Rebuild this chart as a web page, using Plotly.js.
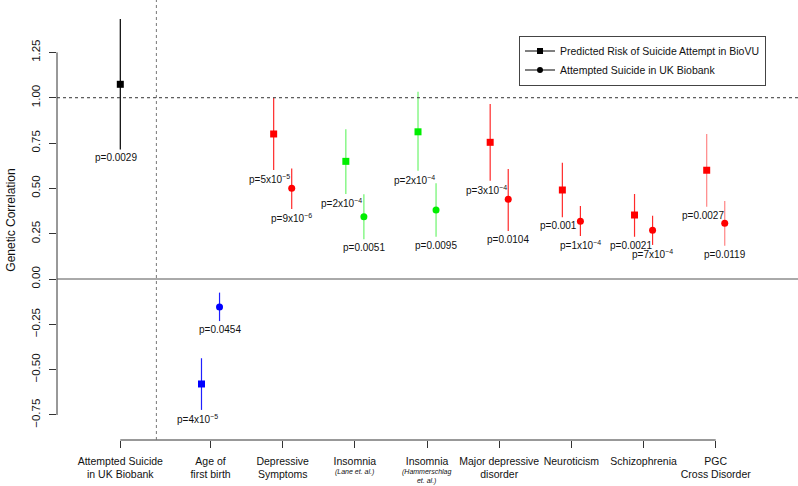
<!DOCTYPE html>
<html>
<head>
<meta charset="utf-8">
<script src="https://cdn.plot.ly/plotly-3.0.1.min.js"></script>
<style>
  html, body { margin: 0; padding: 0; background: #fff; }
  #chart { width: 798px; height: 486px; }
</style>
</head>
<body>
<div id="chart"></div>
<script>
// categories along the x axis (position of each tick)
const categories = [
  'Attempted Suicide<br>in UK Biobank',
  'Age of<br>first birth',
  'Depressive<br>Symptoms',
  'Insomnia',
  'Insomnia',
  'Major depressive<br>disorder',
  'Neuroticism',
  'Schizophrenia',
  'PGC<br>Cross Disorder'
];
// small italic sub-labels under some categories
const subLabels = [null, null, null, '(Lane et. al.)', '(Hammerschlag<br>et. al.)', null, null, null, null];
const catPos = [0, 1.25, 2.25, 3.25, 4.25, 5.25, 6.25, 7.25, 8.25];

// predicted risk of suicide attempt in BioVU (squares)
const biovuR  = [1.074, -0.579, 0.80, 0.649, 0.812, 0.754, 0.491, 0.353, 0.60];
const biovuLo = [0.715, -0.722, 0.601, 0.469, 0.597, 0.542, 0.34, 0.233, 0.399];
const biovuHi = [1.434, -0.437, 1.00, 0.826, 1.033, 0.965, 0.641, 0.469, 0.80];
const biovuP  = ['p=0.0029', 'p=4x10<sup>−5</sup>', 'p=5x10<sup>−5</sup>', 'p=2x10<sup>−4</sup>',
                 'p=2x10<sup>−4</sup>', 'p=3x10<sup>−4</sup>', 'p=0.001', 'p=0.0021', 'p=0.0027'];

// attempted suicide in UK Biobank (circles)
const ukbR  = [null, -0.154, 0.50, 0.344, 0.381, 0.44, 0.318, 0.269, 0.307];
const ukbLo = [null, -0.232, 0.386, 0.219, 0.233, 0.265, 0.237, 0.188, 0.184];
const ukbHi = [null, -0.075, 0.61, 0.467, 0.528, 0.607, 0.403, 0.349, 0.43];
const ukbP  = [null, 'p=0.0454', 'p=9x10<sup>−6</sup>', 'p=0.0051', 'p=0.0095', 'p=0.0104',
               'p=1x10<sup>−4</sup>', 'p=7x10<sup>−4</sup>', 'p=0.0119'];

const markerColors = ['#000000', '#0000ff', '#ff0000', '#00ee00', '#00ee00', '#ff0000', '#ff0000', '#ff0000', '#ff0000'];
const barColors    = ['#000000', '#2020ff', '#ff2a2a', '#6cf56c', '#6cf56c', '#ff2a2a', '#ff2a2a', '#ff2a2a', '#ff8585'];

const off = 0.125;
const font = 'Liberation Sans, Arial, Helvetica, sans-serif';

const traces = [];
const annotations = [];

catPos.forEach((pos, i) => {
  const xs = [], ys = [], up = [], down = [], sym = [];
  const single = ukbR[i] === null;
  const xb = single ? pos : pos - off;
  xs.push(xb); ys.push(biovuR[i]); up.push(biovuHi[i] - biovuR[i]); down.push(biovuR[i] - biovuLo[i]); sym.push('square');
  annotations.push({ x: xb, y: biovuLo[i], text: biovuP[i], xshift: -4, yshift: -1 });
  if (!single) {
    xs.push(pos + off); ys.push(ukbR[i]); up.push(ukbHi[i] - ukbR[i]); down.push(ukbR[i] - ukbLo[i]); sym.push('circle');
    annotations.push({ x: pos + off, y: ukbLo[i], text: ukbP[i], xshift: 0, yshift: -1 });
  }
  traces.push({
    x: xs, y: ys, type: 'scatter', mode: 'markers', showlegend: false, hoverinfo: 'skip',
    marker: { symbol: sym, size: 7, color: markerColors[i] },
    error_y: { type: 'data', symmetric: false, array: up, arrayminus: down, width: 0, thickness: 1.2, color: barColors[i] }
  });
});

subLabels.forEach((s, i) => {
  if (!s) return;
  annotations.push({
    x: catPos[i], y: 0, yref: 'paper', text: '<i>' + s + '</i>', yshift: -26,
    font: { size: 7, family: font, color: '#111' }
  });
});

// legend entries
traces.push({ x: [null], y: [null], type: 'scatter', mode: 'lines+markers', name: 'Predicted Risk of Suicide Attempt in BioVU',
  line: { color: '#000', width: 1 }, marker: { symbol: 'square', size: 6, color: '#000' } });
traces.push({ x: [null], y: [null], type: 'scatter', mode: 'lines+markers', name: 'Attempted Suicide in UK Biobank',
  line: { color: '#000', width: 1 }, marker: { symbol: 'circle', size: 6, color: '#000' } });

const layout = {
  width: 798, height: 486,
  margin: { l: 57, r: 0, t: 0, b: 46 },
  paper_bgcolor: '#fff', plot_bgcolor: '#fff',
  font: { family: font, color: '#111', size: 10 },
  showlegend: true,
  legend: {
    x: 0.6235, y: 0.8625, xanchor: 'left', yanchor: 'middle',
    bordercolor: '#444', borderwidth: 1, bgcolor: '#fff',
    font: { size: 10.5, family: font }, itemwidth: 30
  },
  xaxis: {
    range: [-0.877, 9.39], showgrid: false, zeroline: false, showline: false,
    tickmode: 'array', tickvals: catPos, ticktext: categories,
    ticks: 'outside', ticklen: 7, tickcolor: '#333', tickwidth: 1,
    ticklabelstandoff: 4,
    tickfont: { size: 10.5, family: font, color: '#111' }
  },
  yaxis: {
    range: [-0.888, 1.539], showgrid: false, zeroline: false, showline: false,
    tickmode: 'array', tickvals: [-0.75, -0.5, -0.25, 0, 0.25, 0.5, 0.75, 1, 1.25],
    tickformat: '.2f', tickangle: -90,
    ticks: 'outside', ticklen: 7, tickcolor: '#333', tickwidth: 1,
    ticklabelstandoff: 4,
    tickfont: { size: 11.5, family: font, color: '#111' },
    title: { text: 'Genetic Correlation', font: { size: 12, family: font, color: '#111' }, standoff: 12 }
  },
  shapes: [
    // axis lines (R style, from first to last tick)
    { type: 'line', xref: 'paper', x0: 0, x1: 0, yref: 'y', y0: -0.75, y1: 1.25, line: { color: '#333', width: 1 } },
    { type: 'line', xref: 'x', x0: 0, x1: 8.25, yref: 'paper', y0: 0, y1: 0, line: { color: '#333', width: 1 } },
    // reference lines
    { type: 'line', xref: 'paper', x0: 0, x1: 1, yref: 'y', y0: 1, y1: 1, line: { color: '#333', width: 1, dash: '3px,3px' } },
    { type: 'line', xref: 'paper', x0: 0, x1: 1, yref: 'y', y0: 0, y1: 0, line: { color: '#555', width: 1 } },
    { type: 'line', xref: 'x', x0: 0.5, x1: 0.5, yref: 'paper', y0: 0, y1: 1, line: { color: '#777', width: 1, dash: 'dot' } }
  ],
  annotations: annotations.map(a => Object.assign({
    xref: 'x', yref: 'y', showarrow: false, xanchor: 'center', yanchor: 'top',
    font: { size: 10, family: font, color: '#111' }
  }, a))
};

Plotly.newPlot('chart', traces, layout, { displayModeBar: false, staticPlot: true });
</script>
</body>
</html>
